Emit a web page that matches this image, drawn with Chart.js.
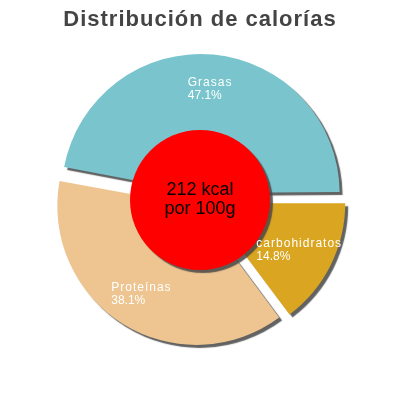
<!DOCTYPE html>
<html>
<head>
<meta charset="utf-8">
<script src="https://cdn.jsdelivr.net/npm/chart.js@4/dist/chart.umd.min.js"></script>
<style>
    html, body { margin: 0; padding: 0; background: #fff; }
    #wrap { width: 400px; height: 400px; }
</style>
</head>
<body>
<div id="wrap"><canvas id="pieChart" width="400" height="400"></canvas></div>
<script>
var tieuDe = 'Distribución de calorías';
var nhan = ['Grasas', 'carbohidratos', 'Proteínas'];
var phanTram = [47.1, 14.8, 38.1];
var mau = ['#7AC5CD', '#DAA520', '#EEC591'];
var giuaDong = ['212 kcal', 'por 100g'];

var tong = phanTram.reduce(function (a, b) { return a + b; }, 0);
// Grasas ends at 3 o'clock
var xoay = 450 - 360 * phanTram[0] / tong;

// keep every exploded slice at the same radius
var veCung = Chart.ArcElement.prototype.draw;
Chart.ArcElement.prototype.draw = function (ctx) {
    var fix = 1 - Math.sin(Math.min(Math.PI, this.circumference || 0));
    var bu = (this.options.offset || 0) / 4 * fix;
    this.outerRadius -= bu;
    veCung.call(this, ctx);
    this.outerRadius += bu;
};

function datBong(ctx) {
    ctx.shadowColor = 'rgba(70,70,70,0.85)';
    ctx.shadowBlur = 1;
    ctx.shadowOffsetX = 3;
    ctx.shadowOffsetY = 3;
}

var bongPlugin = {
    id: 'bong',
    beforeDatasetsDraw: function (chart) {
        chart.ctx.save();
        datBong(chart.ctx);
    },
    afterDatasetsDraw: function (chart) {
        var ctx = chart.ctx;
        ctx.restore();

        var meta = chart.getDatasetMeta(0);
        var cx = meta.data[0].x, cy = meta.data[0].y;

        // title
        ctx.save();
        ctx.fillStyle = '#444444';
        ctx.font = 'bold 22px "Liberation Sans", Arial, sans-serif';
        ctx.letterSpacing = '1px';
        ctx.textAlign = 'center';
        ctx.textBaseline = 'alphabetic';
        ctx.fillText(tieuDe, 200, 26);
        ctx.restore();

        // red circle in the middle
        ctx.save();
        datBong(ctx);
        ctx.beginPath();
        ctx.arc(cx, cy, 70, 0, Math.PI * 2);
        ctx.fillStyle = '#FF0000';
        ctx.fill();
        ctx.restore();

        ctx.save();
        ctx.fillStyle = '#000';
        ctx.font = '18px "Liberation Sans", Arial, sans-serif';
        ctx.textAlign = 'center';
        ctx.textBaseline = 'middle';
        ctx.fillText(giuaDong[0], cx, cy - 10);
        ctx.fillText(giuaDong[1], cx, cy + 9);
        ctx.restore();

        // labels inside slices
        ctx.save();
        ctx.fillStyle = '#fff';
        ctx.font = '12px "Liberation Sans", Arial, sans-serif';
        ctx.textAlign = 'left';
        ctx.textBaseline = 'middle';
        meta.data.forEach(function (arc, i) {
            var goc = (arc.startAngle + arc.endAngle) / 2;
            var dich = arc.options.offset / 4 + 104;
            var px = arc.x + Math.cos(goc) * dich;
            var py = arc.y + Math.sin(goc) * dich;
            var pt = phanTram[i].toFixed(1) + '%';
            ctx.letterSpacing = '1px';
            var rong1 = ctx.measureText(nhan[i]).width;
            ctx.letterSpacing = '0px';
            var rong2 = ctx.measureText(pt).width;
            var rong = Math.max(rong1, rong2);
            ctx.letterSpacing = '1px';
            ctx.fillText(nhan[i], px - rong / 2, py - 6.5);
            ctx.letterSpacing = '0px';
            ctx.fillText(pt, px - rong / 2, py + 6.5);
        });
        ctx.restore();
    }
};

var ctx = document.getElementById('pieChart');

window.pieChart = new Chart(ctx, {
    type: 'pie',
    data: {
        labels: nhan,
        datasets: [
            {
                data: phanTram,
                backgroundColor: mau,
                borderWidth: 0,
                offset: 28
            }
        ]
    },
    options: {
        responsive: false,
        animation: false,
        rotation: xoay,
        radius: 139,
        layout: { padding: { top: 35, bottom: 35 } },
        plugins: {
            legend: { display: false },
            tooltip: { enabled: false },
            title: { display: false }
        }
    },
    plugins: [bongPlugin]
});
</script>
</body>
</html>
